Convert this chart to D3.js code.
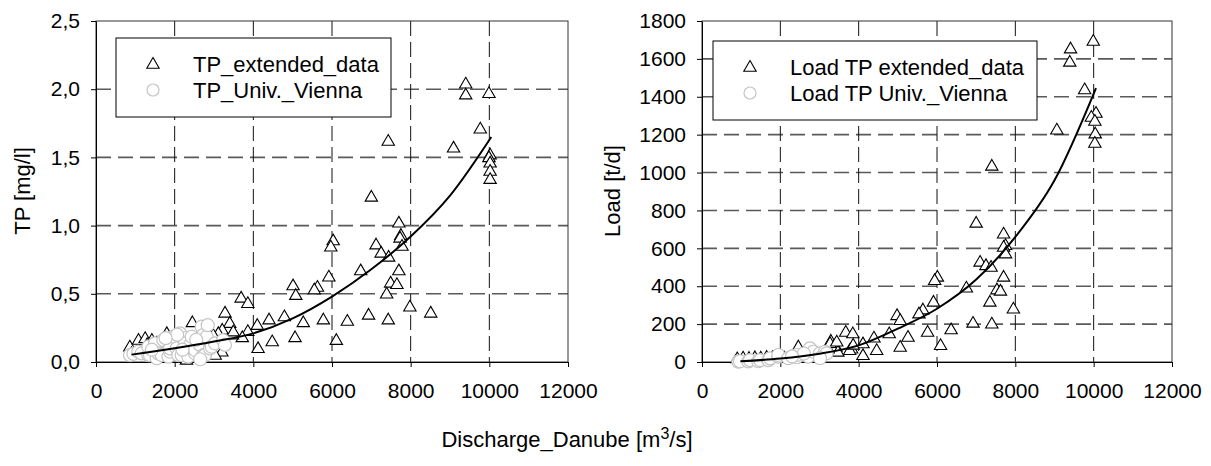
<!DOCTYPE html>
<html>
<head>
<meta charset="utf-8">
<script src="https://cdn.jsdelivr.net/npm/d3@7"></script>
<style>
  body { margin: 0; background: #fff; }
  svg text { font-family: Arial, "Liberation Sans", sans-serif; fill: #000; }
</style>
</head>
<body>
<svg id="chart" width="1211" height="466"></svg>
<script>
// discharge ticks shared by both panels
const xTicks = [0, 2000, 4000, 6000, 8000, 10000, 12000];
const tpTicks = [0, 0.5, 1.0, 1.5, 2.0, 2.5];
const loadTicks = [0, 200, 400, 600, 800, 1000, 1200, 1400, 1600, 1800];

// TP concentration [mg/l] vs discharge [m3/s]
const tpExtended = [
  [9400, 2.04], [9400, 1.96], [9990, 1.97], [9770, 1.71], [9090, 1.57], [7430, 1.62],
  [10020, 1.52], [9990, 1.50], [10020, 1.46], [10020, 1.40], [10020, 1.34],
  [7000, 1.21], [7700, 1.02], [7750, 0.93], [7730, 0.91], [7780, 0.85], [6030, 0.89],
  [5970, 0.845], [7120, 0.86], [7250, 0.80], [7440, 0.77], [7700, 0.67], [6730, 0.67],
  [5920, 0.625], [7490, 0.58], [7650, 0.57], [7390, 0.50], [5010, 0.56], [5630, 0.55],
  [5550, 0.53], [5080, 0.49], [3690, 0.47], [3860, 0.43], [7980, 0.405], [8510, 0.36],
  [6930, 0.345], [4790, 0.333], [3280, 0.36], [3400, 0.285], [4400, 0.31], [5780, 0.31],
  [6390, 0.30], [7430, 0.31], [5270, 0.29], [2450, 0.29], [4100, 0.27], [3860, 0.225],
  [3720, 0.18], [3210, 0.235], [3470, 0.20], [5060, 0.18], [4480, 0.15], [6110, 0.16],
  [4120, 0.10], [3110, 0.21], [2980, 0.198], [2860, 0.174], [2640, 0.174], [3490, 0.222],
  [3200, 0.075], [3030, 0.051], [2300, 0.015], [860, 0.112], [1080, 0.161], [1250, 0.174],
  [1420, 0.161], [1800, 0.21], [900, 0.064], [1300, 0.13], [1550, 0.14], [2000, 0.15],
  [2200, 0.12], [2600, 0.10], [2700, 0.06], [1900, 0.03]
];
const tpVienna = [
  [864, 0.051], [950, 0.06], [1076, 0.075], [1160, 0.063], [1330, 0.051], [1330, 0.112],
  [1373, 0.05], [1500, 0.112], [1500, 0.137], [1543, 0.027], [1584, 0.063], [1670, 0.051],
  [1754, 0.149], [1711, 0.161], [1840, 0.039], [1881, 0.075], [1881, 0.10], [1966, 0.185],
  [2051, 0.10], [2093, 0.05], [2135, 0.21], [2178, 0.051], [2263, 0.174], [2262, 0.137],
  [2347, 0.039], [2390, 0.125], [2432, 0.185], [2517, 0.064], [2517, 0.088], [2601, 0.149],
  [2644, 0.125], [2686, 0.259], [2728, 0.198], [2728, 0.05], [2771, 0.051], [2813, 0.185],
  [2840, 0.27], [2898, 0.10], [2941, 0.112], [3025, 0.137], [3229, 0.16], [3279, 0.125],
  [2549, 0.163], [2063, 0.20], [1770, 0.175], [1420, 0.09], [2200, 0.09], [2650, 0.02]
];
const tpTrend = [
  [900, 0.054], [2000, 0.10], [3000, 0.15], [4000, 0.21], [5000, 0.32], [6000, 0.48],
  [7000, 0.68], [8000, 0.92], [9000, 1.22], [10050, 1.65]
];

// TP load [t/d] vs discharge [m3/s]
const loadExtended = [
  [9990, 1694], [9410, 1654], [9390, 1584], [9770, 1438], [10060, 1314], [9940, 1293],
  [10030, 1272], [10040, 1205], [10030, 1156], [9060, 1226], [7400, 1035], [7000, 734],
  [7700, 677], [7750, 616], [7700, 607], [7750, 572], [7100, 528], [7250, 510], [7380, 501],
  [6010, 449], [5940, 431], [7700, 449], [7530, 382], [7620, 375], [6750, 392], [7350, 317],
  [5910, 317], [5640, 276], [5540, 255], [7950, 281], [4980, 246], [5060, 220], [6920, 206],
  [7400, 202], [5760, 158], [6360, 171], [4780, 150], [5260, 132], [3670, 158], [3850, 150],
  [4390, 128], [3290, 111], [3420, 79], [6090, 88], [5060, 79], [4460, 62], [4110, 97],
  [3820, 70], [4110, 35], [3770, 62], [3470, 53], [2470, 70], [3220, 70], [2460, 81],
  [3270, 99], [3440, 107], [3860, 90], [900, 18], [1050, 22], [1200, 20], [1350, 24],
  [1500, 22], [1650, 26], [1800, 24], [1950, 28], [2100, 22], [2300, 30], [2700, 40], [3000, 35]
];
const loadVienna = [
  [927, 2], [970, 4], [1182, 3], [1225, 10], [1437, 4], [1481, 10], [1693, 10], [1736, 19],
  [1948, 28], [1949, 37], [2203, 20], [2418, 25], [2418, 37], [2714, 28], [2757, 72],
  [2842, 54], [3013, 46], [3140, 54], [3183, 46], [3013, 20], [2600, 45], [2300, 30]
];
const loadTrend = [
  [980, 4], [2000, 18], [3000, 44], [4000, 88], [5000, 176], [6000, 281],
  [7000, 435], [8000, 660], [9000, 959], [10060, 1446]
];

const svg = d3.select('#chart');
const commaFmt = d3.formatLocale({ decimal: ',', thousands: '', grouping: [3], currency: ['', ''] });

function triangle(sel) {
  return sel.append('path')
    .attr('d', 'M0,-6.5L6.2,4.2L-6.2,4.2Z')
    .attr('fill', '#fff')
    .attr('stroke', '#000')
    .attr('stroke-width', 1.1);
}

function drawPanel(p) {
  const x = d3.scaleLinear().domain([0, 12000]).range([p.left, p.right]);
  const y = d3.scaleLinear().domain([0, p.yMax]).range([362, 21]);
  const g = svg.append('g');

  // dashed grid
  g.selectAll('.hgrid')
    .data(p.yTicks.slice(1, -1))
    .enter()
    .append('line')
    .attr('x1', p.left).attr('x2', p.right)
    .attr('y1', d => y(d)).attr('y2', d => y(d))
    .attr('stroke', '#5a5a5a')
    .attr('stroke-width', 1.6)
    .attr('stroke-dasharray', '15,7');
  g.selectAll('.vgrid')
    .data(xTicks.slice(1, -1))
    .enter()
    .append('line')
    .attr('x1', d => x(d)).attr('x2', d => x(d))
    .attr('y1', 21).attr('y2', 362)
    .attr('stroke', '#111')
    .attr('stroke-width', 1)
    .attr('stroke-dasharray', '15,6');

  g.append('rect')
    .attr('x', p.left).attr('y', 21)
    .attr('width', p.right - p.left).attr('height', 341)
    .attr('fill', 'none')
    .attr('stroke', '#333');

  const xAxis = g.append('g')
    .attr('transform', 'translate(0,362)')
    .call(d3.axisBottom(x).tickValues(xTicks).tickSize(5).tickSizeOuter(0).tickPadding(16).tickFormat(d3.format('d')));
  const yAxis = g.append('g')
    .attr('transform', `translate(${p.left},0)`)
    .call(d3.axisLeft(y).tickValues(p.yTicks).tickSize(5).tickSizeOuter(0).tickPadding(11).tickFormat(p.fmt));
  [xAxis, yAxis].forEach(a => {
    a.selectAll('text').style('font-size', '21px').attr('fill', '#000');
    a.select('.domain').attr('stroke', '#000');
  });

  // markers
  g.selectAll('.tri')
    .data(p.extended)
    .enter()
    .append('g')
    .attr('transform', d => `translate(${x(d[0])},${y(d[1])})`)
    .call(triangle);
  g.selectAll('.circ')
    .data(p.vienna)
    .enter()
    .append('circle')
    .attr('cx', d => x(d[0]))
    .attr('cy', d => y(d[1]))
    .attr('r', 6.5)
    .attr('fill', '#fff')
    .attr('stroke', '#c4c4c4')
    .attr('stroke-width', 1.2);

  const line = d3.line()
    .x(d => x(d[0]))
    .y(d => y(d[1]))
    .curve(d3.curveMonotoneX);
  g.append('path')
    .datum(p.trend)
    .attr('d', line)
    .attr('fill', 'none')
    .attr('stroke', '#000')
    .attr('stroke-width', 2);

  // y title
  g.append('text')
    .attr('transform', `translate(${p.titleX},191) rotate(-90)`)
    .attr('text-anchor', 'middle')
    .style('font-size', '22px')
    .text(p.title);

  // legend
  const lg = g.append('g').attr('transform', `translate(${p.legX},${p.legY})`);
  lg.append('rect')
    .attr('width', p.legW).attr('height', 79)
    .attr('fill', '#fff')
    .attr('stroke', '#000');
  lg.append('g').attr('transform', 'translate(37,26)').call(triangle);
  lg.append('circle')
    .attr('cx', 37).attr('cy', 52).attr('r', 6)
    .attr('fill', '#fff')
    .attr('stroke', '#c4c4c4')
    .attr('stroke-width', 1.2);
  lg.selectAll('.lt')
    .data(p.labels)
    .enter()
    .append('text')
    .attr('x', 77)
    .attr('y', (d, i) => 26 + i * 26)
    .attr('dy', '0.36em')
    .style('font-size', '22px')
    .text(d => d);
}

drawPanel({
  left: 96, right: 568, yMax: 2.5, yTicks: tpTicks, fmt: commaFmt.format('.1f'),
  extended: tpExtended, vienna: tpVienna, trend: tpTrend,
  title: 'TP [mg/l]', titleX: 30,
  legX: 116, legY: 38, legW: 275,
  labels: ['TP_extended_data', 'TP_Univ._Vienna']
});

drawPanel({
  left: 702, right: 1172, yMax: 1800, yTicks: loadTicks, fmt: d3.format('d'),
  extended: loadExtended, vienna: loadVienna, trend: loadTrend,
  title: 'Load [t/d]', titleX: 620,
  legX: 713, legY: 41, legW: 324,
  labels: ['Load TP extended_data', 'Load TP Univ._Vienna']
});

const xt = svg.append('text')
  .attr('x', 567)
  .attr('y', 447)
  .attr('text-anchor', 'middle')
  .style('font-size', '22px');
xt.append('tspan').text('Discharge_Danube [m');
xt.append('tspan').attr('dy', -8).style('font-size', '16px').text('3');
xt.append('tspan').attr('dy', 8).text('/s]');
</script>
</body>
</html>
